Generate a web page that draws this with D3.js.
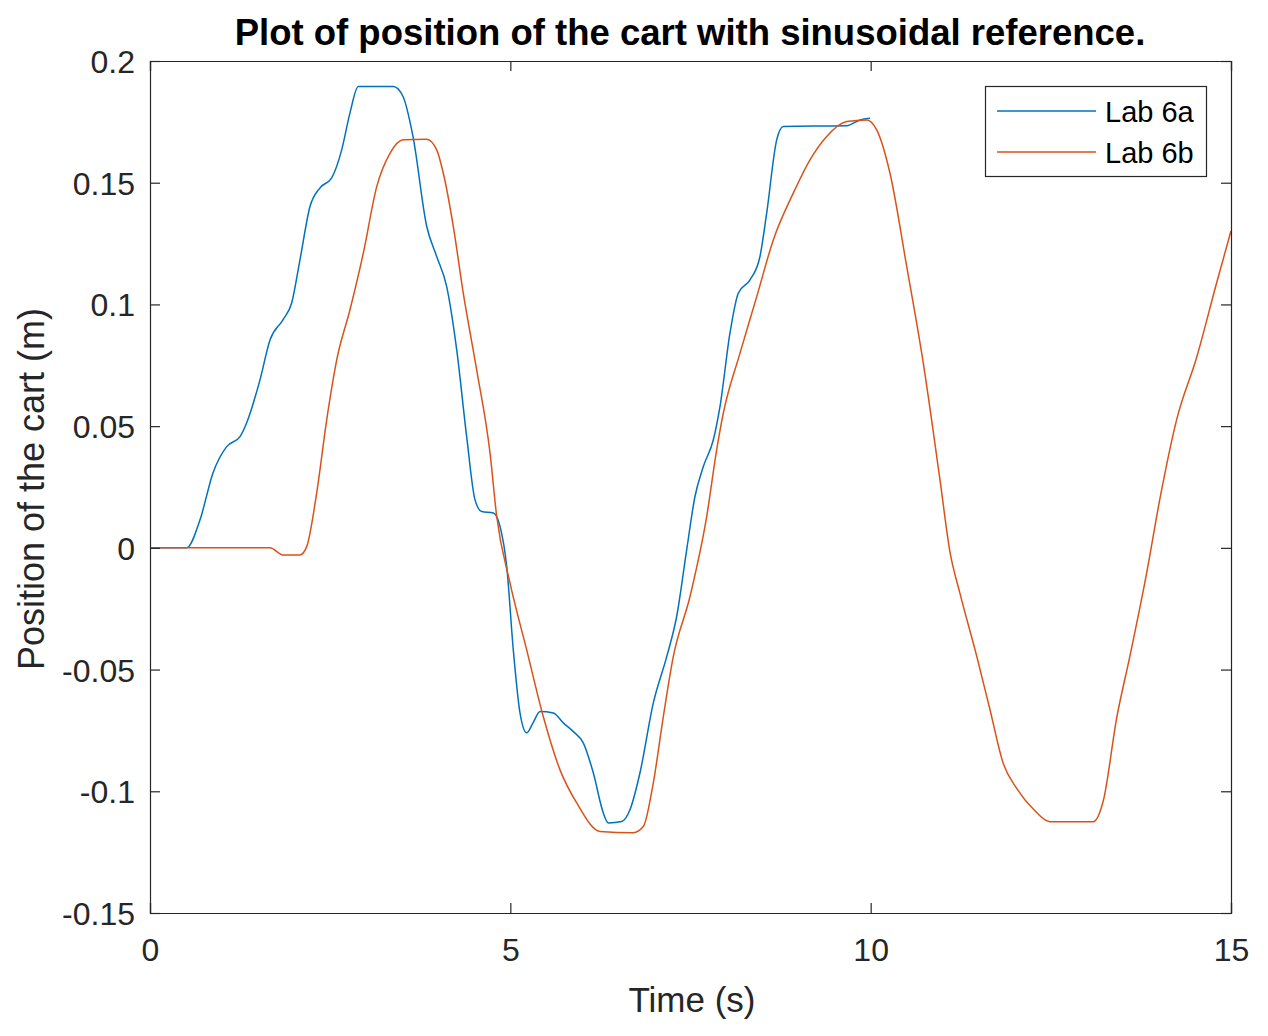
<!DOCTYPE html>
<html><head><meta charset="utf-8">
<script src="https://cdn.jsdelivr.net/npm/d3@7"></script>
<style>body{margin:0;background:#fff;} svg{display:block;}</style>
</head><body>
<script>
const title = "Plot of position of the cart with sinusoidal reference.";
const xLabel = "Time (s)";
const yLabel = "Position of the cart (m)";
const seriesNames = ["Lab 6a", "Lab 6b"];
const xTicks = [0, 5, 10, 15];
const yTicks = [-0.15, -0.1, -0.05, 0, 0.05, 0.1, 0.15, 0.2];
const yTickLabels = ["-0.15", "-0.1", "-0.05", "0", "0.05", "0.1", "0.15", "0.2"];

const lab6aT = [0,0.509,0.694,0.874,1.064,1.249,1.342,1.526,1.665,1.845,1.966,2.081,2.220,2.359,2.521,2.660,2.775,2.890,3.376,3.511,3.649,3.840,3.978,4.117,4.256,4.394,4.510,4.603,4.764,4.857,4.950,5.041,5.134,5.227,5.315,5.412,5.596,5.735,5.874,6.012,6.151,6.290,6.360,6.545,6.660,6.799,6.984,7.170,7.308,7.447,7.562,7.678,7.817,7.909,8.048,8.163,8.326,8.464,8.557,8.696,8.788,9.667,9.852,9.991];
const lab6aY = [0,0,0.0115,0.0308,0.0416,0.0457,0.0514,0.0690,0.0854,0.0937,0.1006,0.1183,0.1402,0.1479,0.1520,0.1635,0.1787,0.1895,0.1895,0.1854,0.1690,0.1320,0.1197,0.1073,0.0813,0.0457,0.0197,0.0149,0.0143,0.0088,-0.0077,-0.0419,-0.0678,-0.0760,-0.0719,-0.0672,-0.0678,-0.0719,-0.0755,-0.0801,-0.0924,-0.1089,-0.1130,-0.1124,-0.1076,-0.0924,-0.0637,-0.0447,-0.0282,-0.0008,0.0211,0.0334,0.0444,0.0580,0.0883,0.1046,0.1101,0.1197,0.1375,0.1676,0.1731,0.1734,0.1758,0.1765];

const lab6bT = [0,1.665,1.845,2.081,2.174,2.313,2.452,2.591,2.775,2.960,3.146,3.330,3.515,3.840,3.978,4.070,4.209,4.347,4.533,4.718,4.811,4.995,5.227,5.457,5.689,5.921,6.244,6.706,6.845,6.984,7.123,7.261,7.493,7.725,7.863,7.955,8.187,8.419,8.649,8.926,9.158,9.390,9.667,9.945,10.084,10.268,10.500,10.730,10.962,11.101,11.240,11.471,11.656,11.840,12.026,12.256,12.488,13.089,13.228,13.414,13.598,13.830,14.015,14.246,14.524,14.801,15.0];
const lab6bY = [0,0,-0.0029,-0.0029,0.0005,0.0226,0.0526,0.0772,0.0978,0.1211,0.1484,0.1621,0.1676,0.1679,0.1635,0.1539,0.1320,0.1046,0.0731,0.0390,0.0129,-0.0144,-0.0419,-0.0693,-0.0912,-0.1048,-0.1165,-0.1170,-0.1145,-0.0965,-0.0693,-0.0447,-0.0200,0.0129,0.0403,0.0553,0.0800,0.1032,0.1265,0.1457,0.1594,0.1690,0.1751,0.1758,0.1717,0.1539,0.1156,0.0759,0.0279,-0.0018,-0.0188,-0.0444,-0.0665,-0.0886,-0.0988,-0.1073,-0.1125,-0.1125,-0.1039,-0.0698,-0.0444,-0.0103,0.0204,0.0527,0.0783,0.1089,0.1302];

const colors = ["#0072BD", "#D95319"];
const W = 1268, H = 1036;
const L = 150, R = 1231, T = 61, B = 913;
const axisColor = "#262626";
const font = "'Liberation Sans', Arial, Helvetica, sans-serif";

const svg = d3.select("body").append("svg").attr("width", W).attr("height", H);
const x = d3.scaleLinear().domain([0, 15]).range([L, R]);
const y = d3.scaleLinear().domain([-0.15, 0.2]).range([B, T]);

const series = [
  lab6aT.map((t, i) => [t, lab6aY[i]]),
  lab6bT.map((t, i) => [t, lab6bY[i]])
];

const line = d3.line().x(d => x(d[0])).y(d => y(d[1])).curve(d3.curveMonotoneX);
svg.append("defs").append("clipPath").attr("id", "clip")
  .append("rect").attr("x", L).attr("y", T).attr("width", R - L).attr("height", B - T);
const g = svg.append("g").attr("clip-path", "url(#clip)");
series.forEach((s, i) => {
  g.append("path").datum(s).attr("d", line).attr("fill", "none")
    .attr("stroke", colors[i]).attr("stroke-width", 1.5).attr("stroke-linejoin", "round");
});

// axes with inward ticks on all sides
const tl = 10;
const axBottom = svg.append("g").attr("transform", `translate(0,${B})`)
  .call(d3.axisBottom(x).tickValues(xTicks).tickSize(-tl).tickPadding(25).tickFormat(d3.format("d")));
const axTop = svg.append("g").attr("transform", `translate(0,${T})`)
  .call(d3.axisTop(x).tickValues(xTicks).tickSize(-tl).tickFormat(""));
const axLeft = svg.append("g").attr("transform", `translate(${L},0)`)
  .call(d3.axisLeft(y).tickValues(yTicks).tickSize(-tl).tickPadding(15).tickFormat((d, i) => yTickLabels[i]));
const axRight = svg.append("g").attr("transform", `translate(${R},0)`)
  .call(d3.axisRight(y).tickValues(yTicks).tickSize(-tl).tickFormat(""));
[axBottom, axTop, axLeft, axRight].forEach(a => {
  a.selectAll(".domain").attr("stroke", axisColor).attr("stroke-width", 1.2);
  a.selectAll(".tick line").attr("stroke", axisColor).attr("stroke-width", 1.2);
  a.selectAll("text").attr("fill", axisColor).style("font-family", font).style("font-size", "32px");
});
axBottom.selectAll("text").attr("dy", "0.71em");
axLeft.selectAll("text").attr("dy", "0.36em");

svg.append("text").attr("x", 690).attr("y", 45).attr("text-anchor", "middle")
  .style("font-family", font).style("font-size", "36.5px").style("font-weight", "bold").attr("fill", "#000").text(title);
svg.append("text").attr("x", 692).attr("y", 1012).attr("text-anchor", "middle")
  .style("font-family", font).style("font-size", "35px").attr("fill", axisColor).text(xLabel);
svg.append("text").attr("transform", `translate(44,489) rotate(-90)`).attr("text-anchor", "middle")
  .style("font-family", font).style("font-size", "36px").attr("fill", axisColor).text(yLabel);

// legend
const lg = svg.append("g");
lg.append("rect").attr("x", 985.5).attr("y", 86.5).attr("width", 221).attr("height", 90)
  .attr("fill", "#fff").attr("stroke", axisColor).attr("stroke-width", 1.2);
seriesNames.forEach((n, i) => {
  const yy = 111 + i * 41;
  lg.append("line").attr("x1", 997).attr("x2", 1096).attr("y1", yy).attr("y2", yy)
    .attr("stroke", colors[i]).attr("stroke-width", 1.5);
  lg.append("text").attr("x", 1105).attr("y", yy + 10.5)
    .style("font-family", font).style("font-size", "29px").attr("fill", "#000").text(n);
});
</script>
</body></html>
